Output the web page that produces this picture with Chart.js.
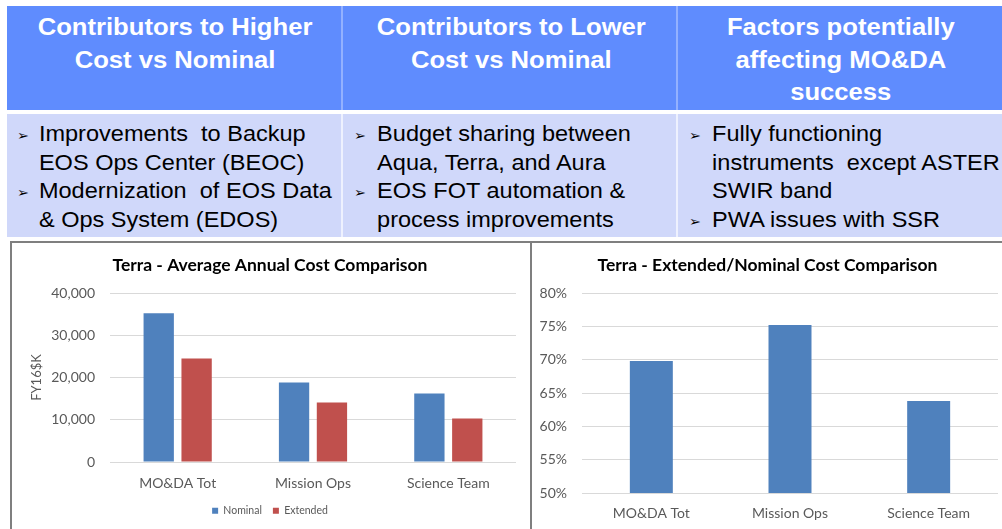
<!DOCTYPE html>
<html>
<head>
<meta charset="utf-8">
<script src="https://cdn.jsdelivr.net/npm/chart.js@4.4.1/dist/chart.umd.min.js"></script>
<style>
  html, body { margin:0; padding:0; background:#fff; width:1002px; height:529px; overflow:hidden; }
  .cell { position:absolute; box-sizing:border-box; overflow:hidden; }
  .hdr { top:6px; height:104px; background:#5F8CFE; }
  .bdy { top:114px; height:123px; background:#D0D8FA; }
  .hdr.c2, .hdr.c3 { border-left:2px solid #93B1FF; }
  .bdy.c2, .bdy.c3 { border-left:2px solid #EEF1FE; }
  .inner { position:absolute; left:0; top:0; transform-origin:0 0; transform:scaleX(1.1); }
  .hdr .inner { text-align:center; color:#fff; font:bold 23.3px/32.5px "Liberation Sans", Arial, sans-serif; padding-top:5px; }
  .bdy .inner { color:#000; font:21.4px/28.5px "Liberation Sans", Arial, sans-serif; padding-top:6px; }
  .item { position:relative; padding-left:29px; }
  .item .bul { position:absolute; left:9px; top:2px; font:13px/28.5px "DejaVu Sans", sans-serif; color:#000; }
  .box { position:absolute; top:241px; height:300px; border-left:2px solid #7F7F7F; border-top:2px solid #7F7F7F; box-sizing:border-box; background:#fff; }
  canvas { position:absolute; }
</style>
</head>
<body>
<div class="cell hdr c1" style="left:7px;width:336px;"><div class="inner" style="width:305.5px;">Contributors to Higher<br>Cost vs Nominal</div></div>
<div class="cell hdr c2" style="left:341px;width:337px;"><div class="inner" style="width:306px;">Contributors to Lower<br>Cost vs Nominal</div></div>
<div class="cell hdr c3" style="left:676px;width:326px;"><div class="inner" style="width:296px;">Factors potentially<br>affecting MO&amp;DA<br>success</div></div>

<div class="cell bdy c1" style="left:7px;width:336px;"><div class="inner" style="width:305px;">
  <div class="item"><span class="bul">➢</span>Improvements&nbsp; to Backup<br>EOS Ops Center (BEOC)</div>
  <div class="item"><span class="bul">➢</span>Modernization&nbsp; of EOS Data<br>&amp; Ops System (EDOS)</div>
</div></div>
<div class="cell bdy c2" style="left:341px;width:337px;"><div class="inner" style="width:306px;">
  <div class="item" style="padding-left:31px;"><span class="bul" style="left:10px;">➢</span>Budget sharing between<br>Aqua, Terra, and Aura</div>
  <div class="item" style="padding-left:31px;"><span class="bul" style="left:10px;">➢</span>EOS FOT automation &amp;<br>process improvements</div>
</div></div>
<div class="cell bdy c3" style="left:676px;width:326px;"><div class="inner" style="width:296px;">
  <div class="item" style="padding-left:31px;"><span class="bul" style="left:10px;">➢</span>Fully functioning<br>instruments&nbsp; except ASTER<br>SWIR band</div>
  <div class="item" style="padding-left:31px;"><span class="bul" style="left:10px;">➢</span>PWA issues with SSR</div>
</div></div>

<div class="box" style="left:10px;width:521px;"></div>
<div class="box" style="left:530px;width:480px;"></div>

<canvas id="c1" width="518" height="286" style="left:12px;top:243px;"></canvas>
<canvas id="c2" width="470" height="286" style="left:532px;top:243px;"></canvas>

<script>
// ---- data ----
const categories = ['MO&DA Tot', 'Mission Ops', 'Science Team'];
const nominalCost = [35200, 18800, 16200];
const extendedCost = [24500, 14100, 10300];
const extendedNominalRatio = [0.698, 0.752, 0.638];
const costTicks = [0, 10000, 20000, 30000, 40000];
const ratioTicks = [0.50, 0.55, 0.60, 0.65, 0.70, 0.75, 0.80];
const seriesNames = ['Nominal', 'Extended'];
const titles = ['Terra - Average Annual Cost Comparison', 'Terra - Extended/Nominal Cost Comparison'];
const yAxisTitle = 'FY16$K';

Chart.defaults.font.family = 'Lato, "Open Sans", sans-serif';
const BLUE = '#4F81BD', RED = '#C0504D', GREY = '#595959', GRID = '#D9D9D9';

new Chart(document.getElementById('c1'), {
  type: 'bar',
  data: {
    labels: categories,
    datasets: [
      { label: seriesNames[0], data: nominalCost, backgroundColor: BLUE, borderWidth: 0 },
      { label: seriesNames[1], data: extendedCost, backgroundColor: RED, borderWidth: 0 }
    ]
  },
  options: {
    responsive: false, animation: false,
    categoryPercentage: 0.56, barPercentage: 0.8,
    layout: { padding: { left: 12, right: 14, top: 0, bottom: 3 } },
    plugins: {
      title: { display: true, text: titles[0], color: '#000', font: { size: 17.5, weight: 'bold' }, padding: { top: 12, bottom: 17 } },
      legend: { position: 'bottom', labels: { boxWidth: 6, boxHeight: 6, padding: 11, color: GREY, font: { size: 10.5 } } },
      tooltip: { enabled: false }
    },
    scales: {
      x: {
        grid: { display: false, drawTicks: false }, border: { display: false },
        ticks: { padding: 13, color: GREY, font: { size: 14 } },
        afterFit: s => { s.height = 32.5; }
      },
      y: {
        min: costTicks[0], max: costTicks[costTicks.length - 1],
        afterBuildTicks: s => { s.ticks = costTicks.map(v => ({ value: v })); },
        ticks: { padding: 15, color: GREY, font: { size: 14 }, callback: v => v.toLocaleString('en-US') },
        grid: { color: GRID, drawTicks: false }, border: { display: false },
        title: { display: true, text: yAxisTitle, color: GREY, font: { size: 13 }, padding: { top: 5, bottom: 0 } },
        afterFit: s => { s.width = 86; }
      }
    }
  }
});

new Chart(document.getElementById('c2'), {
  type: 'bar',
  data: {
    labels: categories,
    datasets: [
      { label: 'Extended/Nominal', data: extendedNominalRatio, backgroundColor: BLUE, borderWidth: 0 }
    ]
  },
  options: {
    responsive: false, animation: false,
    categoryPercentage: 0.31, barPercentage: 1.0,
    layout: { padding: { left: 5, right: 4, top: 0, bottom: 0 } },
    plugins: {
      title: { display: true, text: titles[1], color: '#000', font: { size: 17.5, weight: 'bold' }, padding: { top: 12, bottom: 17 } },
      legend: { display: false },
      tooltip: { enabled: false }
    },
    scales: {
      x: {
        grid: { display: false, drawTicks: false }, border: { display: false },
        ticks: { padding: 12, color: GREY, font: { size: 14 } },
        afterFit: s => { s.height = 36; }
      },
      y: {
        min: ratioTicks[0], max: ratioTicks[ratioTicks.length - 1],
        afterBuildTicks: s => { s.ticks = ratioTicks.map(v => ({ value: v })); },
        ticks: { padding: 15, color: GREY, font: { size: 14 }, callback: v => Math.round(v * 100) + '%' },
        grid: { color: GRID, drawTicks: false }, border: { display: false },
        afterFit: s => { s.width = 45; }
      }
    }
  }
});
</script>
</body>
</html>
